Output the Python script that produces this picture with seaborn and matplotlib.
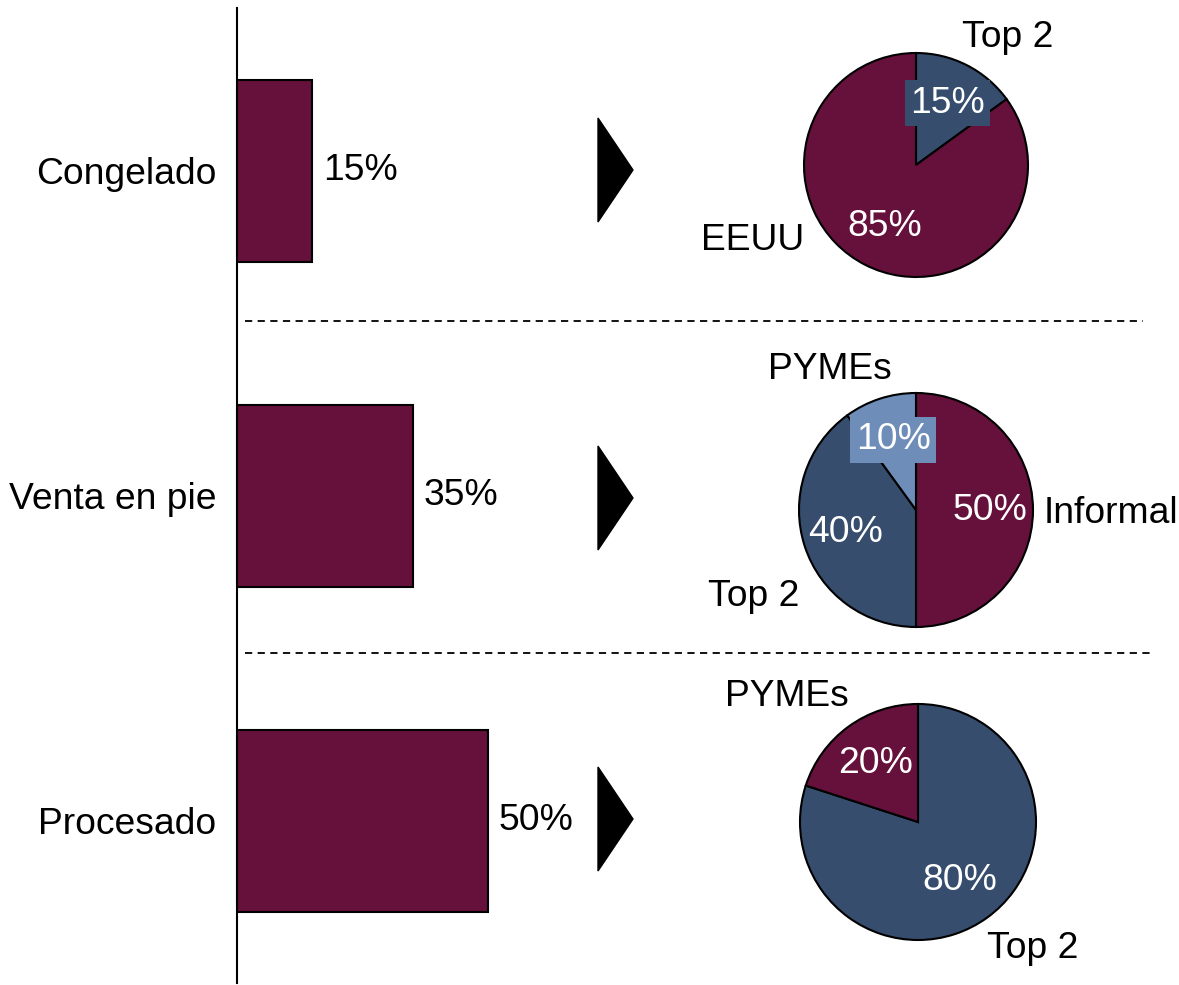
import matplotlib
matplotlib.use("Agg")
import matplotlib.pyplot as plt
from matplotlib.patches import Polygon
from matplotlib.lines import Line2D
import seaborn as sns
import pandas as pd

# ---- data ----
bar_categories = ["Congelado", "Venta en pie", "Procesado"]
bar_values = [15, 35, 50]

pie1_labels = ["Top 2", "EEUU"]
pie1_values = [15, 85]
pie2_labels = ["Informal", "Top 2", "PYMEs"]
pie2_values = [50, 40, 10]
pie3_labels = ["Top 2", "PYMEs"]
pie3_values = [80, 20]

MAROON = "#66103C"
DARK = "#364D6E"
LIGHT = "#6E8DB9"

sns.set_style("white")
plt.rcParams["font.family"] = ["Liberation Sans", "DejaVu Sans"]
plt.rcParams["text.color"] = "black"
plt.rcParams["ytick.color"] = "black"
plt.rcParams["ytick.labelcolor"] = "black"
FS = 26.8

W, H = 1179, 985
fig = plt.figure(figsize=(W / 100, H / 100), dpi=100)


def px_axes(x0, y0, x1, y1):
    return fig.add_axes([x0 / W, 1 - y1 / H, (x1 - x0) / W, (y1 - y0) / H])


# ---- bar chart ----
ax = px_axes(237, 8, 588, 983)
df = pd.DataFrame({"cat": bar_categories, "val": bar_values})
sns.barplot(data=df, x="val", y="cat", orient="h", color=MAROON, saturation=1,
            width=0.56, edgecolor="black", linewidth=1.5, ax=ax)
ax.set_xlim(0, 70)
ax.set_ylim(2.5, -0.5)
ax.set_xlabel("")
ax.set_ylabel("")
ax.set_xticks([])
for s in ["top", "right", "bottom"]:
    ax.spines[s].set_visible(False)
ax.spines["left"].set_linewidth(1.5)
ax.spines["left"].set_color("black")
ax.tick_params(axis="y", length=0, pad=15, labelsize=FS, labelcolor="black")
ax.set_facecolor("none")
for c in ax.containers:
    lbls = ax.bar_label(c, labels=[f"{v}%" for v in bar_values], padding=8, fontsize=FS,
                        color="black")
    for t in lbls:
        t.set_clip_on(False)

# ---- dashed separators ----
for y, x1 in [(321, 1143), (653, 1150)]:
    fig.add_artist(Line2D([245 / W, x1 / W], [1 - y / H, 1 - y / H], color="black",
                          linewidth=1.3, linestyle=(0, (4, 3)), transform=fig.transFigure))

# ---- arrows ----
for cy in [170, 498, 819]:
    fig.add_artist(Polygon([(598 / W, 1 - (cy - 52) / H), (598 / W, 1 - (cy + 52) / H),
                            (633 / W, 1 - cy / H)], closed=True, facecolor="black",
                           edgecolor="black", transform=fig.transFigure))


# ---- pies ----
def make_pie(cx, cy, R, values, colors, pctdist):
    a = px_axes(cx - 1.5 * R, cy - 1.5 * R, cx + 1.5 * R, cy + 1.5 * R)
    wedges, texts, autotexts = a.pie(values, colors=colors, startangle=90, counterclock=False,
                                     autopct=lambda p: f"{p:.0f}%", pctdistance=pctdist,
                                     wedgeprops=dict(edgecolor="black", linewidth=1.5),
                                     textprops=dict(color="white", fontsize=FS))
    a.set_xlim(-1.5, 1.5)
    a.set_ylim(-1.5, 1.5)
    a.set_aspect("equal")
    a.axis("off")
    return a, autotexts


def lab(a, x, y, s, ha="center"):
    a.text(x, y, s, ha=ha, va="center", fontsize=FS, color="black", clip_on=False)


a1, at1 = make_pie(916, 165, 112, pie1_values, [DARK, MAROON], 0.62)
at1[0].set_bbox(dict(facecolor=DARK, edgecolor="none", pad=4))
lab(a1, 0.82, 1.14, pie1_labels[0])
lab(a1, -1.46, -0.67, pie1_labels[1])

a2, at2 = make_pie(916, 510, 117, pie2_values, [MAROON, DARK, LIGHT], 0.63)
at2[2].set_bbox(dict(facecolor=LIGHT, edgecolor="none", pad=4))
lab(a2, 1.09, -0.03, pie2_labels[0], ha="left")
lab(a2, -1.39, -0.74, pie2_labels[1])
lab(a2, -0.74, 1.2, pie2_labels[2])

a3, at3 = make_pie(918, 822, 118, pie3_values, [DARK, MAROON], 0.61)
lab(a3, 0.97, -1.07, pie3_labels[0])
lab(a3, -1.11, 1.06, pie3_labels[1])

fig.savefig("out.png", dpi=100)
